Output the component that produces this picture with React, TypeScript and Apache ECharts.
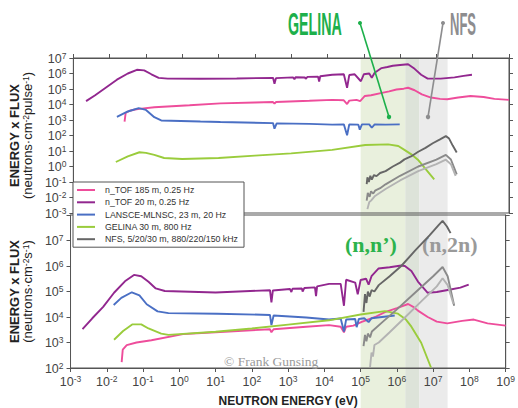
import React, { useEffect, useRef } from 'react';
import * as echarts from 'echarts';

const FONT = '"Liberation Sans", Arial, sans-serif';
const SERIF = '"Liberation Serif", "Times New Roman", serif';

const NAMES = [
  'n_TOF 185 m, 0.25 Hz',
  'n_TOF 20 m, 0.25 Hz',
  'LANSCE-MLNSC, 23 m, 20 Hz',
  'GELINA 30 m, 800 Hz',
  'NFS, 5/20/30 m, 880/220/150 kHz',
];
const COLORS = ['#ee4d9b', '#92278f', '#4a6fc4', '#9acc3c', '#666666'];
const NFS_SHADES = ['#666666', '#8a8a8a', '#b3b3b3'];

const X_RANGE = [1e-3, 1e9];
const TOP_Y_RANGE = [1e-3, 1e7];
const BOTTOM_Y_RANGE = [1e2, 1e8];

// Shaded energy bands [from eV, to eV, colour]
const BANDS: [number, number, string][] = [
  [1e5, 1.7e6, '#e9f0dd'],
  [1.7e6, 4.2e6, '#dde3d9'],
  [4.2e6, 2.5e7, '#ebebeb'],
];

// ---- Data: [log10(E / eV), log10(E x flux)] ----
// Top panel: per pulse
const tof185Top = [
  [-1.59, 2.89], [-1.56, 3.45], [-1.45, 3.6], [-1.3, 3.68], [-1.18, 3.72], [-0.77, 3.82],
  [0.2, 3.95], [1.05, 4.07], [2.0, 4.13], [2.5, 4.16], [2.54, 4.05], [2.58, 4.16], [3.5, 4.24],
  [4.13, 4.3], [4.45, 4.27], [4.54, 4.03], [4.6, 4.25], [4.8, 4.3], [4.9, 4.22], [5.03, 4.55],
  [5.2, 4.6], [5.5, 4.75], [5.7, 4.85], [5.9, 4.97], [6.1, 5.02], [6.22, 5.08], [6.4, 4.92],
  [6.6, 4.65], [6.85, 4.45], [7.1, 4.36], [7.3, 4.34], [7.6, 4.45], [7.94, 4.55], [8.3, 4.48],
  [8.6, 4.36], [9.0, 4.3],
];
const tof20Top = [
  [-2.65, 4.22], [-2.4, 4.6], [-2.1, 5.1], [-1.8, 5.6], [-1.5, 6.0], [-1.25, 6.24], [-1.05, 6.2],
  [-0.85, 5.95], [-0.65, 5.72], [-0.4, 5.67], [0.5, 5.66], [1.5, 5.68], [2.5, 5.72], [2.54, 5.34],
  [2.58, 5.7], [3.05, 5.75], [3.09, 5.63], [3.12, 5.76], [3.38, 5.74], [3.4, 5.66], [3.45, 5.78],
  [3.74, 5.8], [3.77, 5.48], [3.8, 5.82], [4.13, 5.92], [4.45, 5.95], [4.54, 5.08], [4.6, 5.9],
  [4.75, 5.95], [4.92, 5.5], [5.0, 5.95], [5.15, 6.0], [5.22, 5.72], [5.3, 6.05], [5.49, 6.35],
  [5.65, 6.42], [5.8, 6.5], [6.0, 6.55], [6.22, 6.6], [6.4, 6.3], [6.58, 5.92], [6.76, 5.67],
  [7.12, 5.67], [7.5, 5.75], [7.75, 5.85], [7.98, 5.92],
];
const lansceTop = [
  [-1.8, 3.2], [-1.5, 3.55], [-1.2, 3.77], [-1.0, 3.65], [-0.77, 3.18], [-0.58, 2.97], [0.5, 2.9],
  [1.05, 2.87], [2.5, 2.8], [2.54, 2.44], [2.6, 2.78], [3.5, 2.75], [4.13, 2.7], [4.45, 2.72],
  [4.54, 2.02], [4.6, 2.72], [4.85, 2.7], [4.89, 2.38], [4.95, 2.72], [5.15, 2.72], [5.22, 2.5],
  [5.3, 2.72], [5.6, 2.7], [5.99, 2.72],
];
const gelinaTop = [
  [-1.83, 0.29], [-1.5, 0.65], [-1.18, 0.92], [-1.0, 0.88], [-0.77, 0.75], [-0.5, 0.55],
  [0.0, 0.48], [1.0, 0.55], [2.0, 0.7], [3.0, 0.85], [4.13, 1.07], [5.04, 1.39], [5.67, 1.43],
  [5.95, 1.32], [6.12, 1.07], [6.3, 0.8], [6.49, 0.44], [6.7, -0.15], [6.94, -0.83],
];
const nfsTopA = [
  [5.08, -1.14], [5.1, -0.7], [5.14, -1.0], [5.18, -0.6], [5.22, -0.85], [5.28, -0.55],
  [5.35, -0.62], [5.45, -0.42], [5.6, -0.3], [5.8, 0.0], [6.0, 0.25], [6.12, 0.46], [6.3, 0.65],
  [6.5, 0.95], [6.7, 1.2], [6.9, 1.5], [7.1, 1.75], [7.26, 1.96], [7.35, 1.8], [7.45, 1.35],
  [7.56, 0.9],
];
const nfsTopB = [
  [5.08, -2.2], [5.11, -1.7], [5.16, -1.95], [5.2, -1.6], [5.26, -1.75], [5.31, -1.56],
  [5.45, -1.4], [5.6, -1.15], [6.0, -0.6], [6.5, 0.0], [7.0, 0.45], [7.26, 0.75], [7.4, 0.45],
  [7.56, -0.51],
];
const nfsTopC = [
  [5.1, -2.75], [5.15, -2.3], [5.2, -2.2], [5.31, -1.9], [5.6, -1.45], [6.0, -0.9],
  [6.5, -0.3], [7.0, 0.15], [7.26, 0.44], [7.4, 0.15], [7.53, -0.61],
];

// Bottom panel: per second
const tof185Bottom = [
  [-1.59, 2.23], [-1.56, 2.72], [-1.45, 2.9], [-1.18, 3.0], [-0.77, 3.09], [0.1, 3.33],
  [1.0, 3.4], [2.5, 3.52], [2.54, 3.4], [2.6, 3.52], [3.5, 3.62], [4.13, 3.68], [4.45, 3.62],
  [4.54, 3.4], [4.6, 3.62], [4.8, 3.66], [5.03, 3.81], [5.4, 4.0], [5.67, 4.19], [6.0, 4.35],
  [6.31, 4.51], [6.45, 4.4], [6.58, 4.25], [6.85, 4.0], [7.1, 3.82], [7.39, 3.75], [7.8, 3.85],
  [8.12, 3.9], [8.5, 3.75], [9.0, 3.66],
];
const tof20Bottom = [
  [-2.67, 3.52], [-2.4, 3.95], [-2.1, 4.4], [-1.8, 4.95], [-1.5, 5.4], [-1.25, 5.65],
  [-1.05, 5.6], [-0.85, 5.38], [-0.65, 5.12], [-0.4, 5.02], [1.0, 4.96], [2.5, 5.05],
  [2.54, 4.57], [2.58, 5.04], [3.05, 5.1], [3.09, 4.98], [3.12, 5.11], [3.38, 5.12], [3.4, 5.0],
  [3.45, 5.14], [3.74, 5.16], [3.77, 4.82], [3.8, 5.2], [4.13, 5.3], [4.45, 5.3], [4.54, 4.44],
  [4.6, 5.46], [4.85, 5.35], [4.92, 4.89], [5.0, 5.45], [5.15, 5.5], [5.22, 5.27], [5.3, 5.6],
  [5.49, 5.9], [5.8, 5.95], [6.12, 6.02], [6.22, 6.0], [6.4, 5.8], [6.58, 5.39], [6.85, 4.95],
  [7.1, 4.98], [7.48, 5.08], [7.75, 5.15], [7.98, 5.27],
];
const lansceBottom = [
  [-1.81, 4.47], [-1.6, 4.75], [-1.31, 4.97], [-1.1, 4.85], [-0.9, 4.5], [-0.6, 4.22],
  [-0.3, 4.15], [1.05, 4.13], [2.5, 4.08], [2.54, 3.68], [2.6, 4.06], [3.5, 3.98], [4.13, 3.9],
  [4.45, 3.94], [4.54, 3.43], [4.6, 3.9], [4.85, 3.92], [4.89, 3.6], [4.95, 3.92], [5.1, 3.95],
  [5.22, 3.8], [5.3, 3.95], [5.94, 4.06],
];
const gelinaBottom = [
  [-1.8, 3.11], [-1.55, 3.45], [-1.3, 3.71], [-1.05, 3.71], [-0.85, 3.55], [-0.5, 3.35],
  [-0.3, 3.3], [1.0, 3.42], [2.0, 3.55], [3.0, 3.7], [4.13, 3.87], [5.0, 4.1], [5.67, 4.23],
  [6.03, 4.13], [6.25, 3.9], [6.4, 3.62], [6.67, 2.99], [6.94, 2.02],
];
const nfsBottomA = [
  [5.08, 4.2], [5.12, 4.9], [5.16, 4.55], [5.2, 5.0], [5.25, 4.8], [5.3, 5.05], [5.38, 5.0],
  [5.5, 5.25], [5.8, 5.6], [6.12, 6.0], [6.5, 6.6], [6.9, 7.2], [7.15, 7.6], [7.26, 7.77],
  [7.38, 7.55], [7.48, 7.29],
];
const nfsBottomB = [
  [5.08, 2.86], [5.12, 3.3], [5.16, 3.05], [5.2, 3.35], [5.26, 3.2], [5.31, 3.43], [5.6, 3.8],
  [6.0, 4.3], [6.5, 4.95], [7.0, 5.6], [7.26, 5.96], [7.4, 5.6], [7.58, 4.44],
];
const nfsBottomC = [
  [5.26, 2.04], [5.3, 2.6], [5.34, 2.45], [5.38, 2.9], [5.5, 3.0], [5.8, 3.4], [6.2, 3.95],
  [6.7, 4.65], [7.1, 5.2], [7.26, 5.52], [7.4, 5.25], [7.56, 4.51],
];

const fromLog = (pts: number[][]) => pts.map(([e, f]) => [Math.pow(10, e), Math.pow(10, f)]);

const expLabel = (hide?: number) => (v: number) => {
  const e = Math.round(Math.log10(v));
  if (hide !== undefined && e === hide) return '';
  return `{b|10}{s|${e}}`;
};
const labelRich = {
  b: { fontSize: 12.5, lineHeight: 14, verticalAlign: 'bottom', color: '#444', fontFamily: FONT },
  s: { fontSize: 8.5, lineHeight: 14, verticalAlign: 'top', color: '#444', fontFamily: FONT },
};
const tickStyle = { show: true, inside: false, length: 4, lineStyle: { color: '#555', width: 1 } };
const lineAxis = { show: true, lineStyle: { color: '#555', width: 1 } };

const logX = (gridIndex: number, position: 'top' | 'bottom', labels: boolean, extra: any = {}) => ({
  type: 'log', logBase: 10, gridIndex, position,
  min: X_RANGE[0], max: X_RANGE[1], interval: 1, splitNumber: 12,
  axisLine: lineAxis, axisTick: tickStyle, splitLine: { show: false },
  axisLabel: labels
    ? { show: true, formatter: expLabel(), rich: labelRich, margin: 6 }
    : { show: false },
  ...extra,
});
const logY = (gridIndex: number, position: 'left' | 'right', range: number[], labels: boolean, hide?: number, extra: any = {}) => ({
  type: 'log', logBase: 10, gridIndex, position,
  min: range[0], max: range[1], interval: 1, splitNumber: Math.round(Math.log10(range[1] / range[0])),
  axisLine: lineAxis, axisTick: tickStyle, splitLine: { show: false },
  axisLabel: labels
    ? { show: true, formatter: expLabel(hide), rich: labelRich, margin: 7 }
    : { show: false },
  ...extra,
});

const nameRich = {
  a: { fontSize: 13, fontWeight: 'bold', lineHeight: 13, color: '#222', fontFamily: FONT },
  b: { fontSize: 13, lineHeight: 13, verticalAlign: 'bottom', color: '#222', fontFamily: FONT },
  s: { fontSize: 8.5, lineHeight: 13, verticalAlign: 'top', color: '#222', fontFamily: FONT },
};

const mk = (name: string, color: string, pts: number[][], panel: number) => ({
  type: 'line', name, color, data: fromLog(pts),
  xAxisIndex: panel === 0 ? 0 : 1, yAxisIndex: panel === 0 ? 0 : 2,
  showSymbol: false, symbol: 'none', clip: true, z: 3,
  lineStyle: { width: 1.9, color },
});

const series = [
  mk(NAMES[0], COLORS[0], tof185Top, 0),
  mk(NAMES[1], COLORS[1], tof20Top, 0),
  mk(NAMES[2], COLORS[2], lansceTop, 0),
  mk(NAMES[3], COLORS[3], gelinaTop, 0),
  mk(NAMES[4], NFS_SHADES[0], nfsTopA, 0),
  mk(NAMES[4], NFS_SHADES[1], nfsTopB, 0),
  mk(NAMES[4], NFS_SHADES[2], nfsTopC, 0),
  mk(NAMES[0], COLORS[0], tof185Bottom, 1),
  mk(NAMES[1], COLORS[1], tof20Bottom, 1),
  mk(NAMES[2], COLORS[2], lansceBottom, 1),
  mk(NAMES[3], COLORS[3], gelinaBottom, 1),
  mk(NAMES[4], NFS_SHADES[0], nfsBottomA, 1),
  mk(NAMES[4], NFS_SHADES[1], nfsBottomB, 1),
  mk(NAMES[4], NFS_SHADES[2], nfsBottomC, 1),
];

const option: any = {
  animation: false,
  backgroundColor: '#ffffff',
  textStyle: { fontFamily: FONT },
  grid: [
    { left: 68, right: 9, top: 58, height: 155, show: true, borderColor: '#555', borderWidth: 1, backgroundColor: 'transparent' },
    { left: 68, right: 9, top: 215, height: 156, show: true, borderColor: '#555', borderWidth: 1, backgroundColor: 'transparent' },
  ],
  xAxis: [
    logX(0, 'top', false),
    logX(1, 'bottom', true, {
      name: 'NEUTRON ENERGY (eV)', nameLocation: 'middle', nameGap: 27,
      nameTextStyle: { fontSize: 12, fontWeight: 'bold', color: '#222', fontFamily: FONT },
    }),
  ],
  yAxis: [
    logY(0, 'left', TOP_Y_RANGE, true, undefined, {
      name: '{a|ENERGY x FLUX}\n{b|(neutrons·cm}{s|-2}{b|pulse}{s|-1}{b|)}',
      nameLocation: 'middle', nameRotate: 90, nameGap: 34,
      nameTextStyle: { rich: nameRich, align: 'center' },
    }),
    logY(0, 'right', TOP_Y_RANGE, false),
    logY(1, 'left', BOTTOM_Y_RANGE, true, 8, {
      name: '{a|ENERGY x FLUX}\n{b|(neutrons·cm}{s|-2}{b|s}{s|-1}{b|)}',
      nameLocation: 'middle', nameRotate: 90, nameGap: 34,
      nameTextStyle: { rich: nameRich, align: 'center' },
    }),
    logY(1, 'right', BOTTOM_Y_RANGE, false),
  ],
  legend: {
    data: NAMES, orient: 'vertical', left: 73, top: 182,
    icon: 'rect', itemWidth: 18, itemHeight: 2, itemGap: 0.3,
    padding: [2, 6, 2, 4], backgroundColor: '#ffffff', borderColor: '#555', borderWidth: 1,
    selectedMode: false, z: 10,
    textStyle: { fontSize: 8.8, lineHeight: 12, color: '#333', fontFamily: FONT, padding: [0, 0, 0, 5] },
  },
  series,
};

export default function App() {
  const ref = useRef<HTMLDivElement>(null);
  useEffect(() => {
    document.body.style.margin = '0';
    const chart = echarts.init(ref.current as HTMLDivElement, null, { renderer: 'svg' });
    chart.setOption(option);
    const px = (v: number) => chart.convertToPixel({ xAxisIndex: 1 }, v) as number;
    const top = chart.convertToPixel({ yAxisIndex: 0 }, TOP_Y_RANGE[1]) as number;
    const H = chart.getHeight();
    const bandRects = BANDS.map(([a, b, c]) => ({
      type: 'rect', z: -1, silent: true,
      shape: { x: px(a), y: top, width: px(b) - px(a), height: H - top },
      style: { fill: c },
    }));
    const green = '#1db04b';
    const grey = '#8d8d8f';
    const annotations = [
      { type: 'text', x: 288, y: 24, scaleX: 0.46, z: 5,
        style: { text: 'GELINA', font: `bold 31px ${FONT}`, fill: green, align: 'left', verticalAlign: 'middle', textAlign: 'left', textVerticalAlign: 'middle' } },
      { type: 'text', x: 450, y: 24, scaleX: 0.42, z: 5,
        style: { text: 'NFS', font: `bold 31px ${FONT}`, fill: grey, align: 'left', verticalAlign: 'middle', textAlign: 'left', textVerticalAlign: 'middle' } },
      { type: 'line', z: 5, shape: { x1: 360, y1: 23, x2: 389, y2: 117 }, style: { stroke: green, lineWidth: 1.6 } },
      { type: 'circle', z: 5, shape: { cx: 360, cy: 23, r: 2 }, style: { fill: green } },
      { type: 'circle', z: 5, shape: { cx: 389, cy: 117, r: 2.2 }, style: { fill: green } },
      { type: 'line', z: 5, shape: { x1: 443, y1: 23, x2: 428, y2: 117 }, style: { stroke: grey, lineWidth: 1.6 } },
      { type: 'circle', z: 5, shape: { cx: 443, cy: 23, r: 2 }, style: { fill: grey } },
      { type: 'circle', z: 5, shape: { cx: 428, cy: 117, r: 2.2 }, style: { fill: grey } },
      { type: 'text', x: 345, y: 244, z: 1,
        style: { text: '(n,n’)', font: `bold 22px ${SERIF}`, fill: '#2cb34c', align: 'left', verticalAlign: 'middle', textAlign: 'left', textVerticalAlign: 'middle' } },
      { type: 'text', x: 422, y: 244, z: 1,
        style: { text: '(n,2n)', font: `bold 22px ${SERIF}`, fill: '#9a9a9a', align: 'left', verticalAlign: 'middle', textAlign: 'left', textVerticalAlign: 'middle' } },
      { type: 'text', x: 224, y: 361, z: 1,
        style: { text: '© Frank Gunsing', font: `13.5px ${SERIF}`, fill: '#9a9a9a', align: 'left', verticalAlign: 'middle', textAlign: 'left', textVerticalAlign: 'middle' } },
    ];
    chart.setOption({ graphic: [...bandRects, ...annotations] });
    return () => chart.dispose();
  }, []);
  return <div ref={ref} style={{ width: 518, height: 408 }} />;
}
